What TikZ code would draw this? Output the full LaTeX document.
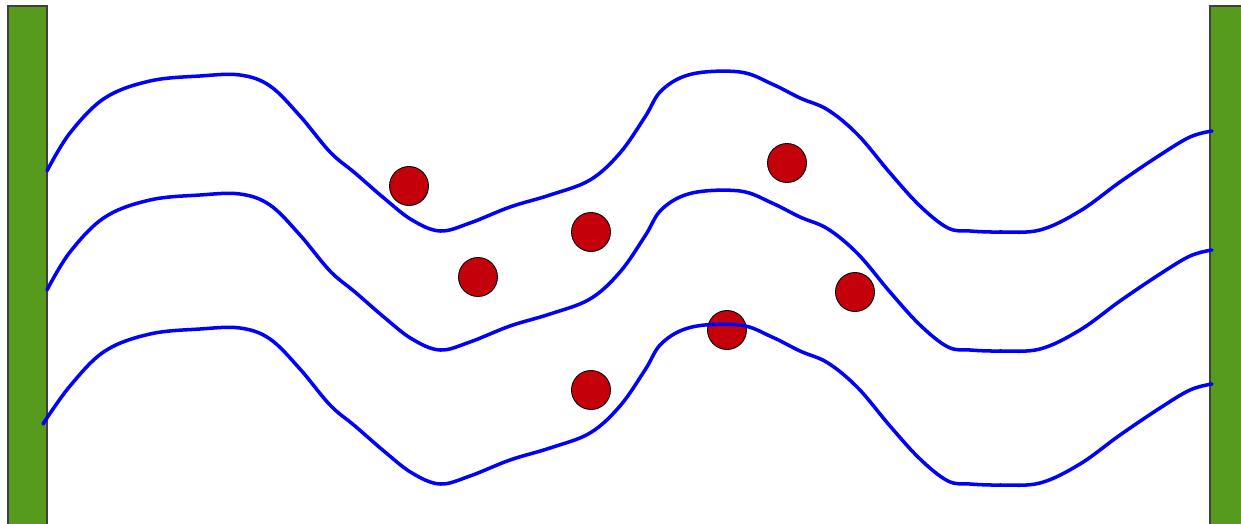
\documentclass[tikz,border=0pt]{standalone}
\usepackage{xcolor}
\usepackage{tikz}

\definecolor{wallgreen}{RGB}{86,155,30}
\definecolor{ballred}{RGB}{196,0,10}

\begin{document}
\begin{tikzpicture}[x=0.02cm, y=-0.02cm,
    wall/.style={fill=wallgreen, draw=black!75, line width=0.7pt},
    ball/.style={fill=ballred, draw=black, line width=0.5pt},
    wave/.style={blue, line width=2pt, line cap=round}]
  \clip (0,0) rectangle (1241,524);
  \useasboundingbox (0,0) rectangle (1241,524);

  % Walls
  \draw[wall] (8,6) rectangle (47,540);
  \draw[wall] (1210,6) rectangle (1260,540);

  % Particles
  \foreach \x/\y in {409/186, 478/277, 591/232, 591/390, 787/163, 855/292, 727/330} {
    \draw[ball] (\x,\y) circle (19.5);
  }

  % Channels: same profile, shifted down
  \foreach \s/\a in {0/47, 119/47, 253/43} {
    \begin{scope}[shift={(0,\s)}]
      \draw[wave] plot[smooth, tension=0.6] coordinates {
        (\a,171) (70,133) (105,98) (150,81) (200,76) (240,75) (270,86)
        (300,116) (330,152) (355,173) (385,199) (412,220) (440,231)
        (470,223) (510,207) (550,195) (590,180) (620,153) (645,117)
        (662,90) (692,74) (740,72) (772,84) (800,98) (828,110) (858,135)
        (890,173) (920,206) (948,228) (970,231) (1000,232) (1040,230)
        (1080,211) (1120,182) (1160,155) (1190,137) (1212,131)};
    \end{scope}
  }
\end{tikzpicture}
\end{document}
